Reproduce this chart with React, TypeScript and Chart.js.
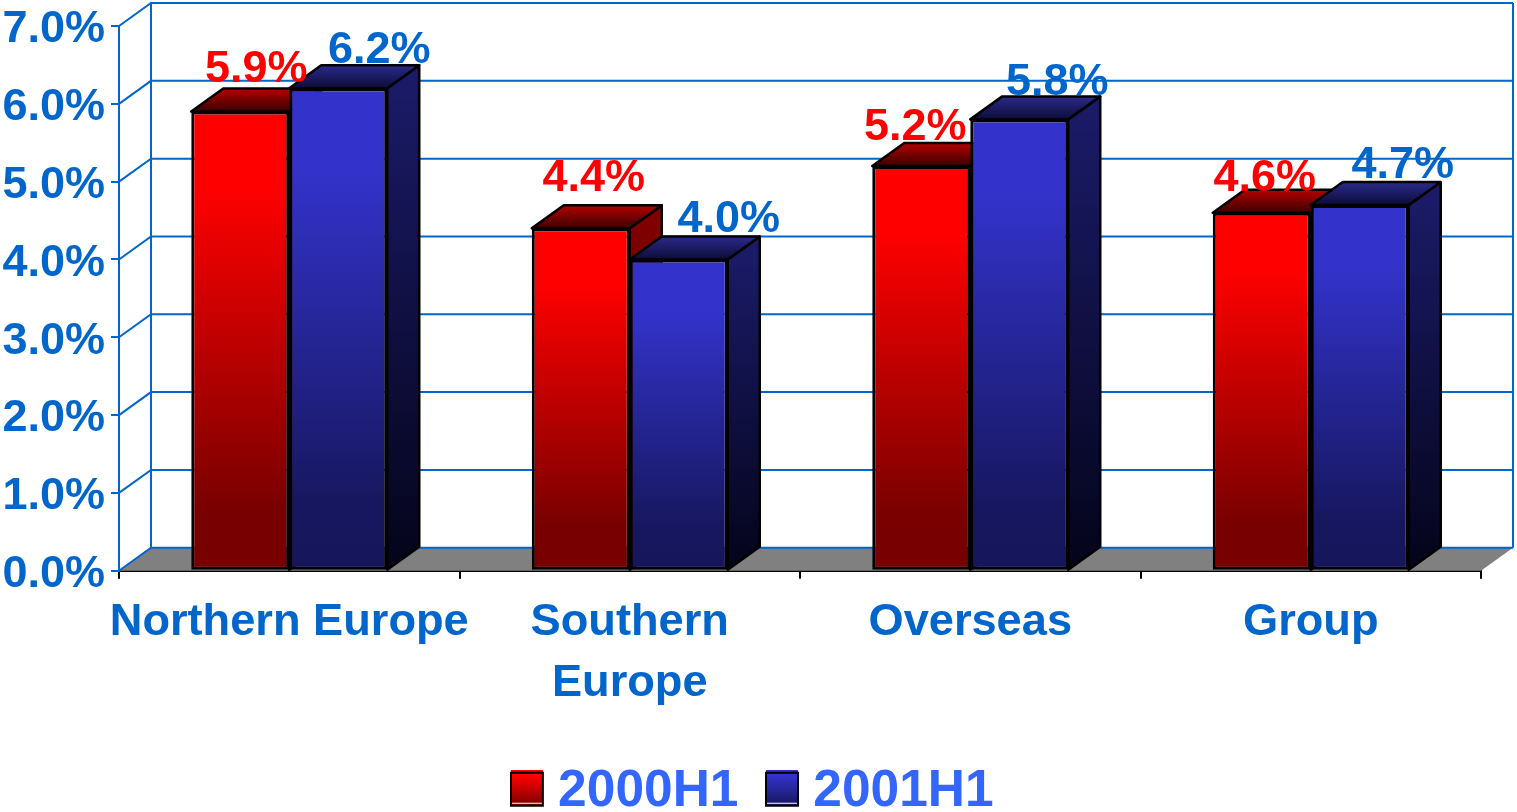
import React, { useEffect, useRef } from "react";
import { Chart, registerables } from "chart.js";

Chart.register(...registerables);

const categories: (string | string[])[] = ["Northern Europe", ["Southern", "Europe"], "Overseas", "Group"];
const seriesNames = ["2000H1", "2001H1"];
const values2000 = [5.9, 4.4, 5.2, 4.6];
const values2001 = [6.2, 4.0, 5.8, 4.7];

// Hand-placed value labels: offset from each bar's centre and top edge.
const labelShift2000 = [[16, -30], [13, -37], [-6, -26], [3, -22]];
const labelShift2001 = [[41, -25], [50, -27], [38, -24], [43, -27]];

const FONT = "'Liberation Sans', Arial, sans-serif";
const AXIS_BLUE = "#0066CC";
const LEGEND_BLUE = "#3366FF";
const DEPTH_X = 32;
const DEPTH_Y = -23;
const PLOT_BOTTOM = 570.7;

const faces = [
  {
    front: ["#FF0000", "#FF0000", "#7A0000", "#780000"],
    top: ["#B40000", "#3A0000"],
    side: ["#800000", "#400000"],
  },
  {
    front: ["#3333CC", "#3333CC", "#17175F", "#16165C"],
    top: ["#2A2A8C", "#0C0C38"],
    side: ["#1A1A66", "#04041A"],
  },
];

function verticalGradient(ctx: CanvasRenderingContext2D, y0: number, y1: number, stops: string[], at: number[]) {
  const g = ctx.createLinearGradient(0, y0, 0, y1);
  stops.forEach((c, i) => g.addColorStop(at[i], c));
  return g;
}

// Legend key; the spare margin on the right and bottom nudges it up and left of the text's centre line.
function legendSwatch(set: number) {
  const c = document.createElement("canvas");
  c.width = 38;
  c.height = 45;
  const x = c.getContext("2d") as CanvasRenderingContext2D;
  const f = faces[set].front;
  x.fillStyle = f[0];
  x.fillRect(1, 0, 32, 3);
  x.fillStyle = verticalGradient(x, 3, 36, [f[0], f[3]], [0.1, 1]);
  x.fillRect(1, 3, 32, 33);
  x.strokeStyle = "#000";
  x.lineWidth = 2;
  x.strokeRect(1, 3, 32, 33);
  x.fillStyle = "#fff";
  x.fillRect(2, 33, 30, 1);
  return c;
}

// Back wall, side wall and floor behind the bars.
const roomPlugin = {
  id: "room",
  beforeDatasetsDraw(chart: any) {
    const { ctx, chartArea: a, scales } = chart;
    const y = scales.y;
    ctx.save();
    ctx.fillStyle = "#808080";
    ctx.beginPath();
    ctx.moveTo(a.left, a.bottom);
    ctx.lineTo(a.right, a.bottom);
    ctx.lineTo(a.right + DEPTH_X, a.bottom + DEPTH_Y);
    ctx.lineTo(a.left + DEPTH_X, a.bottom + DEPTH_Y);
    ctx.closePath();
    ctx.fill();

    ctx.strokeStyle = AXIS_BLUE;
    ctx.lineWidth = 2;
    y.ticks.forEach((_: any, i: number) => {
      const py = y.getPixelForTick(i);
      ctx.beginPath();
      ctx.moveTo(a.left, py);
      ctx.lineTo(a.left + DEPTH_X, py + DEPTH_Y);
      ctx.lineTo(a.right + DEPTH_X, py + DEPTH_Y);
      ctx.stroke();
    });
    ctx.beginPath();
    ctx.moveTo(a.left + DEPTH_X, a.top + DEPTH_Y);
    ctx.lineTo(a.left + DEPTH_X, a.bottom + DEPTH_Y);
    ctx.moveTo(a.right + DEPTH_X, a.top + DEPTH_Y);
    ctx.lineTo(a.right + DEPTH_X, a.bottom + DEPTH_Y);
    ctx.stroke();

    // Top and side faces of each bar; the library paints the front faces afterwards.
    ctx.strokeStyle = "#000";
    ctx.lineJoin = "round";
    categories.forEach((_, j) => {
      [0, 1].forEach((s) => {
        const b = chart.getDatasetMeta(s).data[j];
        const L = b.x - b.width / 2;
        const R = b.x + b.width / 2;
        const T = b.y;
        const B = b.base;
        ctx.lineWidth = 2.5;
        ctx.fillStyle = verticalGradient(ctx, T, B, faces[s].side, [0, 1]);
        ctx.beginPath();
        ctx.moveTo(R, T);
        ctx.lineTo(R + DEPTH_X, T + DEPTH_Y);
        ctx.lineTo(R + DEPTH_X, B + DEPTH_Y);
        ctx.lineTo(R, B);
        ctx.closePath();
        ctx.fill();
        ctx.stroke();
        ctx.fillStyle = verticalGradient(ctx, T + DEPTH_Y, T, faces[s].top, [0, 1]);
        ctx.beginPath();
        ctx.moveTo(L, T);
        ctx.lineTo(R, T);
        ctx.lineTo(R + DEPTH_X, T + DEPTH_Y);
        ctx.lineTo(L + DEPTH_X, T + DEPTH_Y);
        ctx.closePath();
        ctx.fill();
        ctx.stroke();
      });
    });
    ctx.restore();
  },
};

const valueLabelPlugin = {
  id: "valueLabels",
  afterDatasetsDraw(chart: any) {
    const { ctx } = chart;
    const shifts = [labelShift2000, labelShift2001];
    const colors = ["#FF0000", AXIS_BLUE];
    ctx.save();
    ctx.font = `bold 45px ${FONT}`;
    ctx.textAlign = "center";
    ctx.textBaseline = "alphabetic";
    chart.data.datasets.forEach((ds: any, s: number) => {
      ctx.fillStyle = colors[s];
      chart.getDatasetMeta(s).data.forEach((b: any, j: number) => {
        ctx.fillText(`${ds.data[j].toFixed(1)}%`, b.x + shifts[s][j][0], b.y + shifts[s][j][1]);
      });
    });
    ctx.restore();
  },
};

// Moves the legend row to its place under the category labels.
const legendPlacePlugin = {
  id: "legendPlace",
  afterLayout(chart: any) {
    const lg = chart.legend;
    if (!lg) return;
    lg.left += 19;
    lg.right += 19;
    const h = lg.height;
    lg.top = 812 - h + 16;
    lg.bottom = lg.top + h;
  },
};

function frontFill(s: number) {
  return (c: any) => {
    const f = faces[s].front;
    if (c.type !== "data" || !c.chart.chartArea) return f[0];
    const y = c.chart.scales.y;
    return verticalGradient(c.chart.ctx, y.getPixelForValue(c.raw), y.getPixelForValue(0), f, [0, 0.16, 0.86, 1]);
  };
}

export default function App() {
  const ref = useRef<HTMLCanvasElement>(null);

  useEffect(() => {
    const chart = new Chart(ref.current as HTMLCanvasElement, {
      type: "bar",
      plugins: [legendPlacePlugin, roomPlugin, valueLabelPlugin],
      data: {
        labels: categories as any,
        datasets: [values2000, values2001].map((data, s) => ({
          label: seriesNames[s],
          data,
          backgroundColor: frontFill(s),
          borderColor: "#000",
          borderWidth: 3,
          borderSkipped: false,
          categoryPercentage: 0.5756,
          barPercentage: 1,
        })),
      },
      options: {
        responsive: false,
        animation: false,
        layout: { padding: { top: 26, right: 36, left: 0, bottom: 0 } },
        plugins: {
          tooltip: { enabled: false },
          legend: {
            position: "bottom",
            labels: {
              usePointStyle: true,
              pointStyleWidth: 7,
              padding: 42,
              color: LEGEND_BLUE,
              font: { family: FONT, size: 51.5, weight: "bold" },
              generateLabels: (ch: any) =>
                ch.data.datasets.map((d: any, s: number) => ({
                  text: d.label,
                  datasetIndex: s,
                  fontColor: LEGEND_BLUE,
                  pointStyle: legendSwatch(s),
                  lineWidth: 0,
                })),
            },
          },
        },
        scales: {
          x: {
            grid: { drawOnChartArea: false, color: "#000", lineWidth: 2, tickLength: 8 },
            border: { color: "#000", width: 3 },
            ticks: {
              autoSkip: false,
              maxRotation: 0,
              minRotation: 0,
              padding: 14,
              color: AXIS_BLUE,
              font: { family: FONT, size: 45.2, weight: "bold", lineHeight: 1.333 },
            },
            afterFit(scale: any) {
              const lg = scale.chart.legend;
              scale.height = 812 - PLOT_BOTTOM - (lg ? lg.height : 0);
            },
          },
          y: {
            min: 0,
            max: 7,
            ticks: {
              stepSize: 1,
              padding: 6,
              labelOffset: 4,
              color: AXIS_BLUE,
              font: { family: FONT, size: 45, weight: "bold" },
              callback: (v: any) => `${Number(v).toFixed(1)}%`,
            },
            grid: { drawOnChartArea: false, color: AXIS_BLUE, lineWidth: 2, tickLength: 8 },
            border: { color: AXIS_BLUE, width: 2 },
            afterFit(scale: any) {
              scale.width = 119;
              scale.paddingTop = 0;
              scale.paddingBottom = 0;
            },
          },
        },
      },
    } as any);
    return () => chart.destroy();
  }, []);

  return (
    <div style={{ position: "absolute", left: 0, top: 0, width: 1517, height: 812, background: "#fff" }}>
      <canvas ref={ref} width={1517} height={812} style={{ display: "block" }} />
    </div>
  );
}
